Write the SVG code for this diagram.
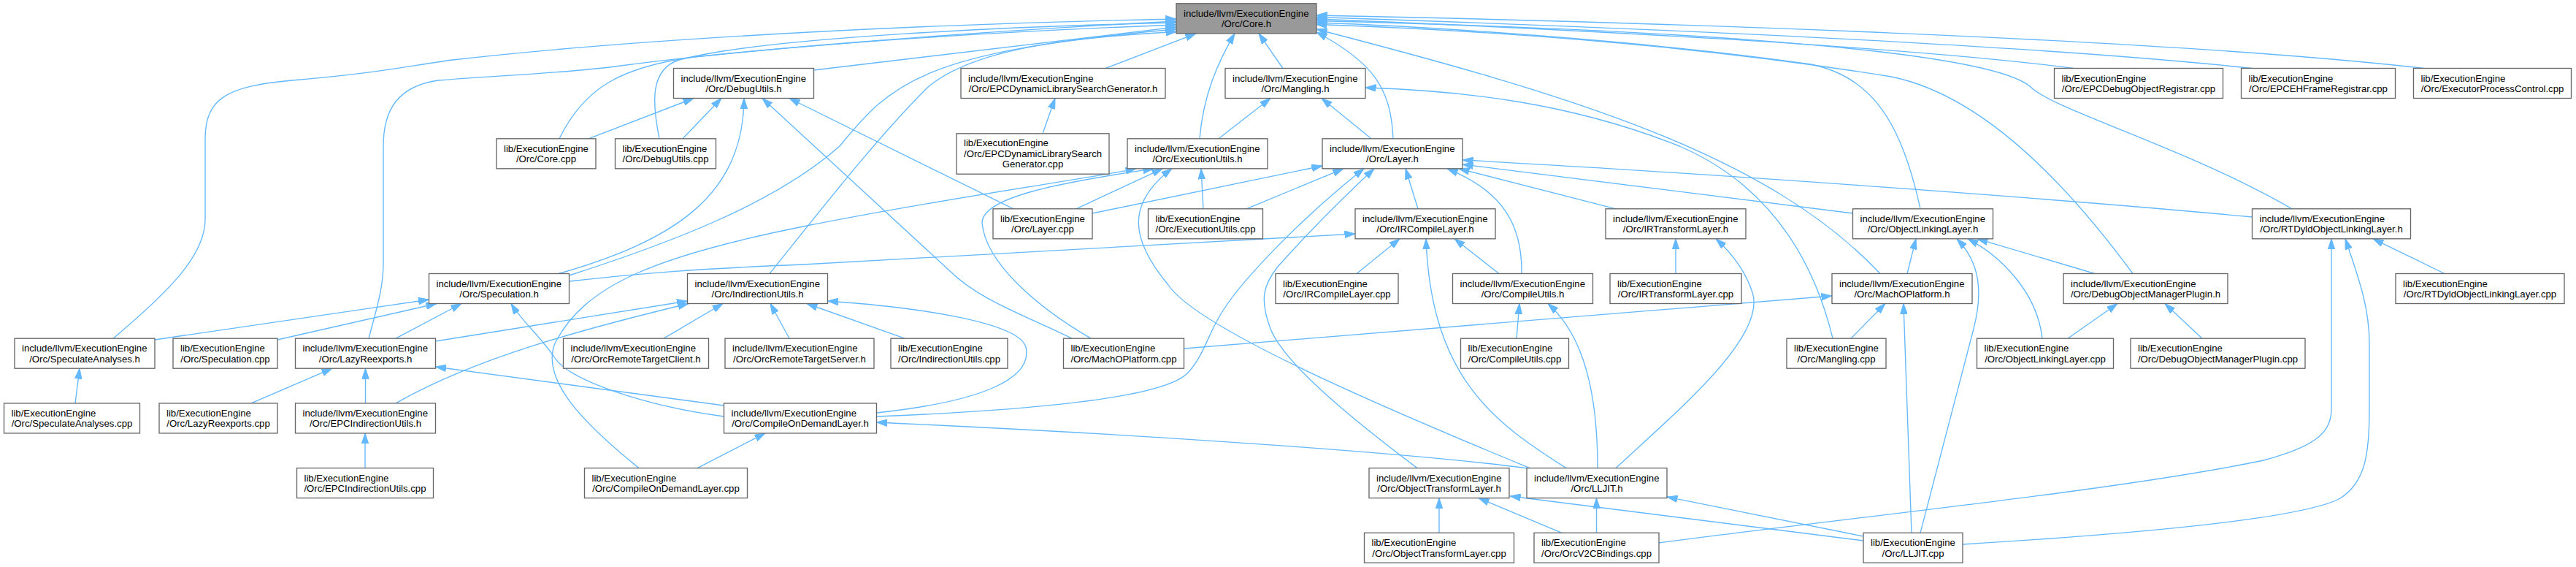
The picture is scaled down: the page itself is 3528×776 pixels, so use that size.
<svg xmlns="http://www.w3.org/2000/svg" width="3528" height="776" viewBox="0 0 3528 776">
<style>
.node rect { fill:#ffffff; stroke:#666666; stroke-width:1.33; }
#node-core_h rect { fill:#999999; }
.node text { font-family:"Liberation Sans", Arial, Helvetica, sans-serif; font-size:13.2px; fill:#000000; }
.node text.c { text-anchor:middle; }
#edges path { fill:none; stroke:#63b8ff; stroke-width:1.35; marker-end:url(#ah); }
</style>
<defs>
<marker id="ah" markerUnits="userSpaceOnUse" markerWidth="15" markerHeight="10" viewBox="0 0 15 10" refX="14.5" refY="5" orient="auto">
<path d="M0,0.2 L14.5,5 L0,9.8 z" fill="#63b8ff" stroke="#63b8ff" stroke-width="1"/>
</marker>
</defs>
<rect x="0" y="0" width="3528" height="776" fill="#ffffff"/>
<g id="edges">
<path d="M1114.5,96 L1611,37"/>
<path d="M1514,93.5 L1638,45.8"/>
<path d="M1643,189.8 C1648,130 1668,85 1691,45.8"/>
<path d="M1757,93.5 L1724,45.8"/>
<path d="M1908,189.8 C1905,120 1880,85 1803,44"/>
<path d="M2575,374.5 C2420,210 2150,130 1803,40"/>
<path d="M2630,285.8 C2605,170 2565,105 2480,88 C2250,55 1950,36 1803,31"/>
<path d="M3139,285.8 C2990,200 2810,150 2780,118 C2710,62 2200,38 1803,28.5"/>
<path d="M2921,374.5 C2800,210 2690,125 2590,105 C2300,58 2000,40 1803,33.5"/>
<path d="M2840,93.5 C2600,62 2100,38 1803,26"/>
<path d="M3085,93.5 C2750,58 2150,35 1803,23.5"/>
<path d="M3320,93.5 C2950,52 2250,30 1803,21"/>
<path d="M766,189.8 C800,120 850,92 950,78 C1200,52 1450,40 1611,34"/>
<path d="M903,189.8 C893,140 890,95 930,82 C1050,50 1400,36 1611,31"/>
<path d="M155,463.2 C230,400 281,350 281,300 L281,190 C281,135 310,118 400,110 C520,100 560,90 620,82 C900,50 1300,32 1611,26"/>
<path d="M505,463.2 C515,425 525,395 525,360 L525,200 C525,150 545,118 600,110 C700,102 780,100 850,90 C1000,70 1300,45 1611,29"/>
<path d="M779.5,377 C910,335 1060,280 1150,200 C1220,115 1260,70 1611,40"/>
<path d="M1054,374.5 C1130,280 1200,190 1270,120 C1340,60 1500,50 1611,43.5"/>
<path d="M806,189.8 L950,134.5"/>
<path d="M935,189.8 L988,134.5"/>
<path d="M765,374.5 C920,330 1018,270 1019,134.5"/>
<path d="M1468,463.2 C1400,430 1340,410 1300,370 L1044,134.5"/>
<path d="M1388,285.8 L1081,134.5"/>
<path d="M1428,182.8 L1445,134.5"/>
<path d="M1669,189.8 L1740,134.5"/>
<path d="M1878,189.8 L1810,134.5"/>
<path d="M2510,463.2 C2490,380 2440,260 2300,200 C2150,140 2000,124 1870,120"/>
<path d="M1648,285.8 L1645,230.8"/>
<path d="M1474,285.8 L1592,230.8"/>
<path d="M1494,463.2 C1420,420 1350,360 1345,305 C1345,270 1450,250 1580,230.8"/>
<path d="M2095,640.6 C1900,560 1640,450 1600,390 C1550,330 1540,280 1605,230.8"/>
<path d="M875,640.6 C800,580 740,520 760,470 C800,390 900,350 1100,310 C1300,270 1470,248 1556,230.8"/>
<path d="M1496,292 L1811,227"/>
<path d="M1707,285.8 L1840,230.8"/>
<path d="M1942,285.8 L1925,230.8"/>
<path d="M2213,285.8 L1998,230.8"/>
<path d="M2084,374.5 C2085,310 2060,262 1982,230.8"/>
<path d="M2538,292 L2003,225"/>
<path d="M3084.5,297 C2800,270 2300,235 2003,219"/>
<path d="M1941,640.6 C1860,580 1760,500 1740,450 C1725,410 1730,390 1750,365 C1790,320 1840,270 1882,230.8"/>
<path d="M1200.5,570 C1450,560 1600,540 1627,510 C1650,485 1655,455 1675,425 C1700,385 1780,300 1868,230.8"/>
<path d="M779.5,385 C880,374 950,368 1100,362 L1856,320"/>
<path d="M1858,374.5 L1917,326.8"/>
<path d="M2053,374.5 L1992,326.8"/>
<path d="M2145,640.6 C2050,580 1960,520 1953,326.8"/>
<path d="M2295,374.5 L2295,326.8"/>
<path d="M2213,640.6 C2300,560 2420,460 2400,400 C2390,370 2370,345 2350,326.8"/>
<path d="M2612,374.5 L2624,326.8"/>
<path d="M2869,374.5 L2708,326.8"/>
<path d="M2797,463.2 C2790,400 2740,350 2695,326.8"/>
<path d="M2630,729.3 L2703,450 C2716,400 2712,360 2680,326.8"/>
<path d="M3348,374.5 L3250,326.8"/>
<path d="M2272,743 C2500,712 2900,672 3100,630 C3175,610 3193,590 3193,560 L3193,326.8"/>
<path d="M2688,745 C2900,732 3150,712 3205,682 C3240,660 3245,620 3245,560 L3245,470 C3245,420 3230,380 3212,326.8"/>
<path d="M212,465 L587.5,410"/>
<path d="M380,465 L598,415.5"/>
<path d="M542,463.2 L632,415.5"/>
<path d="M991.5,570 C880,555 780,520 760,490 C740,460 715,440 700,415.5"/>
<path d="M596.5,467 L941.5,412"/>
<path d="M542,551.9 C650,490 800,450 943,415.5"/>
<path d="M909,463.2 L990,415.5"/>
<path d="M1081,463.2 L1055,415.5"/>
<path d="M1239,463.2 L1105,415.5"/>
<path d="M1200.5,565 C1340,550 1415,520 1405,475 C1395,440 1250,420 1133.5,412"/>
<path d="M2077,463.2 L2081,415.5"/>
<path d="M2188,640.6 C2188,540 2170,460 2120,415.5"/>
<path d="M1621.5,477 L2509,405"/>
<path d="M2535,463.2 L2582,415.5"/>
<path d="M2618,729.3 L2607,415.5"/>
<path d="M2832,463.2 L2900,415.5"/>
<path d="M3016,463.2 L2965,415.5"/>
<path d="M103,551.9 L109,504.2"/>
<path d="M344,551.9 L455,504.2"/>
<path d="M500.5,551.9 L500.5,504.2"/>
<path d="M991.5,555 L596.5,502"/>
<path d="M500,640.6 L500,592.9"/>
<path d="M955,640.6 L1048,592.9"/>
<path d="M2093,641 C1950,622 1600,596 1200.5,578"/>
<path d="M1971,729.3 L1971,681.6"/>
<path d="M2139,729.3 L2025,681.6"/>
<path d="M2552,740 L2068,679"/>
<path d="M2186.5,729.3 L2186.5,681.6"/>
<path d="M2552,734 L2283,680"/>
</g>
<g id="node-core_h" class="node"><rect x="1611" y="4.8" width="192" height="41"/><text x="1621" y="22.8">include/llvm/ExecutionEngine</text><text class="c" x="1707" y="37.3">/Orc/Core.h</text></g>
<g id="node-debugutils_h" class="node"><rect x="922.5" y="93.5" width="192" height="41"/><text x="932.5" y="111.5">include/llvm/ExecutionEngine</text><text class="c" x="1018.5" y="126">/Orc/DebugUtils.h</text></g>
<g id="node-epcdlsg_h" class="node"><rect x="1316" y="93.5" width="280" height="41"/><text x="1326" y="111.5">include/llvm/ExecutionEngine</text><text class="c" x="1456" y="126">/Orc/EPCDynamicLibrarySearchGenerator.h</text></g>
<g id="node-mangling_h" class="node"><rect x="1678" y="93.5" width="192" height="41"/><text x="1688" y="111.5">include/llvm/ExecutionEngine</text><text class="c" x="1774" y="126">/Orc/Mangling.h</text></g>
<g id="node-epcdor_cpp" class="node"><rect x="2813.5" y="93.5" width="231" height="41"/><text x="2823.5" y="111.5">lib/ExecutionEngine</text><text class="c" x="2929" y="126">/Orc/EPCDebugObjectRegistrar.cpp</text></g>
<g id="node-epcehfr_cpp" class="node"><rect x="3069.5" y="93.5" width="211" height="41"/><text x="3079.5" y="111.5">lib/ExecutionEngine</text><text class="c" x="3175" y="126">/Orc/EPCEHFrameRegistrar.cpp</text></g>
<g id="node-epc_cpp" class="node"><rect x="3305.5" y="93.5" width="216" height="41"/><text x="3315.5" y="111.5">lib/ExecutionEngine</text><text class="c" x="3413.5" y="126">/Orc/ExecutorProcessControl.cpp</text></g>
<g id="node-core_cpp" class="node"><rect x="680" y="189.8" width="136" height="41"/><text x="690" y="207.8">lib/ExecutionEngine</text><text class="c" x="748" y="222.3">/Orc/Core.cpp</text></g>
<g id="node-debugutils_cpp" class="node"><rect x="842.5" y="189.8" width="138" height="41"/><text x="852.5" y="207.8">lib/ExecutionEngine</text><text class="c" x="911.5" y="222.3">/Orc/DebugUtils.cpp</text></g>
<g id="node-epcdlsg_cpp" class="node"><rect x="1310" y="182.8" width="209" height="55.4"/><text x="1320" y="200.3">lib/ExecutionEngine</text><text x="1320" y="214.8">/Orc/EPCDynamicLibrarySearch</text><text class="c" x="1414.5" y="229.3">Generator.cpp</text></g>
<g id="node-executionutils_h" class="node"><rect x="1544" y="189.8" width="192" height="41"/><text x="1554" y="207.8">include/llvm/ExecutionEngine</text><text class="c" x="1640" y="222.3">/Orc/ExecutionUtils.h</text></g>
<g id="node-layer_h" class="node"><rect x="1811" y="189.8" width="192" height="41"/><text x="1821" y="207.8">include/llvm/ExecutionEngine</text><text class="c" x="1907" y="222.3">/Orc/Layer.h</text></g>
<g id="node-layer_cpp" class="node"><rect x="1360" y="285.8" width="136" height="41"/><text x="1370" y="303.8">lib/ExecutionEngine</text><text class="c" x="1428" y="318.3">/Orc/Layer.cpp</text></g>
<g id="node-executionutils_cpp" class="node"><rect x="1572.5" y="285.8" width="157" height="41"/><text x="1582.5" y="303.8">lib/ExecutionEngine</text><text class="c" x="1651" y="318.3">/Orc/ExecutionUtils.cpp</text></g>
<g id="node-ircompilelayer_h" class="node"><rect x="1856" y="285.8" width="192" height="41"/><text x="1866" y="303.8">include/llvm/ExecutionEngine</text><text class="c" x="1952" y="318.3">/Orc/IRCompileLayer.h</text></g>
<g id="node-irtransformlayer_h" class="node"><rect x="2199" y="285.8" width="192" height="41"/><text x="2209" y="303.8">include/llvm/ExecutionEngine</text><text class="c" x="2295" y="318.3">/Orc/IRTransformLayer.h</text></g>
<g id="node-objectlinkinglayer_h" class="node"><rect x="2537.5" y="285.8" width="192" height="41"/><text x="2547.5" y="303.8">include/llvm/ExecutionEngine</text><text class="c" x="2633.5" y="318.3">/Orc/ObjectLinkingLayer.h</text></g>
<g id="node-rtdyld_h" class="node"><rect x="3084.5" y="285.8" width="217" height="41"/><text x="3094.5" y="303.8">include/llvm/ExecutionEngine</text><text class="c" x="3193" y="318.3">/Orc/RTDyldObjectLinkingLayer.h</text></g>
<g id="node-speculation_h" class="node"><rect x="587.5" y="374.5" width="192" height="41"/><text x="597.5" y="392.5">include/llvm/ExecutionEngine</text><text class="c" x="683.5" y="407">/Orc/Speculation.h</text></g>
<g id="node-indirectionutils_h" class="node"><rect x="941.5" y="374.5" width="192" height="41"/><text x="951.5" y="392.5">include/llvm/ExecutionEngine</text><text class="c" x="1037.5" y="407">/Orc/IndirectionUtils.h</text></g>
<g id="node-ircompilelayer_cpp" class="node"><rect x="1747" y="374.5" width="168" height="41"/><text x="1757" y="392.5">lib/ExecutionEngine</text><text class="c" x="1831" y="407">/Orc/IRCompileLayer.cpp</text></g>
<g id="node-compileutils_h" class="node"><rect x="1989.5" y="374.5" width="192" height="41"/><text x="1999.5" y="392.5">include/llvm/ExecutionEngine</text><text class="c" x="2085.5" y="407">/Orc/CompileUtils.h</text></g>
<g id="node-irtransformlayer_cpp" class="node"><rect x="2205" y="374.5" width="180" height="41"/><text x="2215" y="392.5">lib/ExecutionEngine</text><text class="c" x="2295" y="407">/Orc/IRTransformLayer.cpp</text></g>
<g id="node-machoplatform_h" class="node"><rect x="2509" y="374.5" width="192" height="41"/><text x="2519" y="392.5">include/llvm/ExecutionEngine</text><text class="c" x="2605" y="407">/Orc/MachOPlatform.h</text></g>
<g id="node-domp_h" class="node"><rect x="2826" y="374.5" width="225" height="41"/><text x="2836" y="392.5">include/llvm/ExecutionEngine</text><text class="c" x="2938.5" y="407">/Orc/DebugObjectManagerPlugin.h</text></g>
<g id="node-rtdyld_cpp" class="node"><rect x="3281" y="374.5" width="231" height="41"/><text x="3291" y="392.5">lib/ExecutionEngine</text><text class="c" x="3396.5" y="407">/Orc/RTDyldObjectLinkingLayer.cpp</text></g>
<g id="node-speculateanalyses_h" class="node"><rect x="20" y="463.2" width="192" height="41"/><text x="30" y="481.2">include/llvm/ExecutionEngine</text><text class="c" x="116" y="495.7">/Orc/SpeculateAnalyses.h</text></g>
<g id="node-speculation_cpp" class="node"><rect x="237" y="463.2" width="143" height="41"/><text x="247" y="481.2">lib/ExecutionEngine</text><text class="c" x="308.5" y="495.7">/Orc/Speculation.cpp</text></g>
<g id="node-lazyreexports_h" class="node"><rect x="404.5" y="463.2" width="192" height="41"/><text x="414.5" y="481.2">include/llvm/ExecutionEngine</text><text class="c" x="500.5" y="495.7">/Orc/LazyReexports.h</text></g>
<g id="node-orcrtclient_h" class="node"><rect x="771.5" y="463.2" width="199" height="41"/><text x="781.5" y="481.2">include/llvm/ExecutionEngine</text><text class="c" x="871" y="495.7">/Orc/OrcRemoteTargetClient.h</text></g>
<g id="node-orcrtserver_h" class="node"><rect x="993" y="463.2" width="204" height="41"/><text x="1003" y="481.2">include/llvm/ExecutionEngine</text><text class="c" x="1095" y="495.7">/Orc/OrcRemoteTargetServer.h</text></g>
<g id="node-indirectionutils_cpp" class="node"><rect x="1220" y="463.2" width="160" height="41"/><text x="1230" y="481.2">lib/ExecutionEngine</text><text class="c" x="1300" y="495.7">/Orc/IndirectionUtils.cpp</text></g>
<g id="node-machoplatform_cpp" class="node"><rect x="1456.5" y="463.2" width="165" height="41"/><text x="1466.5" y="481.2">lib/ExecutionEngine</text><text class="c" x="1539" y="495.7">/Orc/MachOPlatform.cpp</text></g>
<g id="node-compileutils_cpp" class="node"><rect x="2000.5" y="463.2" width="148" height="41"/><text x="2010.5" y="481.2">lib/ExecutionEngine</text><text class="c" x="2074.5" y="495.7">/Orc/CompileUtils.cpp</text></g>
<g id="node-mangling_cpp" class="node"><rect x="2447" y="463.2" width="136" height="41"/><text x="2457" y="481.2">lib/ExecutionEngine</text><text class="c" x="2515" y="495.7">/Orc/Mangling.cpp</text></g>
<g id="node-objectlinkinglayer_cpp" class="node"><rect x="2707.5" y="463.2" width="187" height="41"/><text x="2717.5" y="481.2">lib/ExecutionEngine</text><text class="c" x="2801" y="495.7">/Orc/ObjectLinkingLayer.cpp</text></g>
<g id="node-domp_cpp" class="node"><rect x="2918" y="463.2" width="239" height="41"/><text x="2928" y="481.2">lib/ExecutionEngine</text><text class="c" x="3037.5" y="495.7">/Orc/DebugObjectManagerPlugin.cpp</text></g>
<g id="node-speculateanalyses_cpp" class="node"><rect x="5.5" y="551.9" width="186" height="41"/><text x="15.5" y="569.9">lib/ExecutionEngine</text><text class="c" x="98.5" y="584.4">/Orc/SpeculateAnalyses.cpp</text></g>
<g id="node-lazyreexports_cpp" class="node"><rect x="218" y="551.9" width="162" height="41"/><text x="228" y="569.9">lib/ExecutionEngine</text><text class="c" x="299" y="584.4">/Orc/LazyReexports.cpp</text></g>
<g id="node-epciu_h" class="node"><rect x="404.5" y="551.9" width="192" height="41"/><text x="414.5" y="569.9">include/llvm/ExecutionEngine</text><text class="c" x="500.5" y="584.4">/Orc/EPCIndirectionUtils.h</text></g>
<g id="node-codl_h" class="node"><rect x="991.5" y="551.9" width="209" height="41"/><text x="1001.5" y="569.9">include/llvm/ExecutionEngine</text><text class="c" x="1096" y="584.4">/Orc/CompileOnDemandLayer.h</text></g>
<g id="node-epciu_cpp" class="node"><rect x="406.5" y="640.6" width="187" height="41"/><text x="416.5" y="658.6">lib/ExecutionEngine</text><text class="c" x="500" y="673.1">/Orc/EPCIndirectionUtils.cpp</text></g>
<g id="node-codl_cpp" class="node"><rect x="800.5" y="640.6" width="223" height="41"/><text x="810.5" y="658.6">lib/ExecutionEngine</text><text class="c" x="912" y="673.1">/Orc/CompileOnDemandLayer.cpp</text></g>
<g id="node-otl_h" class="node"><rect x="1875" y="640.6" width="192" height="41"/><text x="1885" y="658.6">include/llvm/ExecutionEngine</text><text class="c" x="1971" y="673.1">/Orc/ObjectTransformLayer.h</text></g>
<g id="node-lljit_h" class="node"><rect x="2091" y="640.6" width="192" height="41"/><text x="2101" y="658.6">include/llvm/ExecutionEngine</text><text class="c" x="2187" y="673.1">/Orc/LLJIT.h</text></g>
<g id="node-otl_cpp" class="node"><rect x="1868.5" y="729.3" width="205" height="41"/><text x="1878.5" y="747.3">lib/ExecutionEngine</text><text class="c" x="1971" y="761.8">/Orc/ObjectTransformLayer.cpp</text></g>
<g id="node-orcv2c_cpp" class="node"><rect x="2101" y="729.3" width="171" height="41"/><text x="2111" y="747.3">lib/ExecutionEngine</text><text class="c" x="2186.5" y="761.8">/Orc/OrcV2CBindings.cpp</text></g>
<g id="node-lljit_cpp" class="node"><rect x="2552" y="729.3" width="136" height="41"/><text x="2562" y="747.3">lib/ExecutionEngine</text><text class="c" x="2620" y="761.8">/Orc/LLJIT.cpp</text></g>
</svg>
